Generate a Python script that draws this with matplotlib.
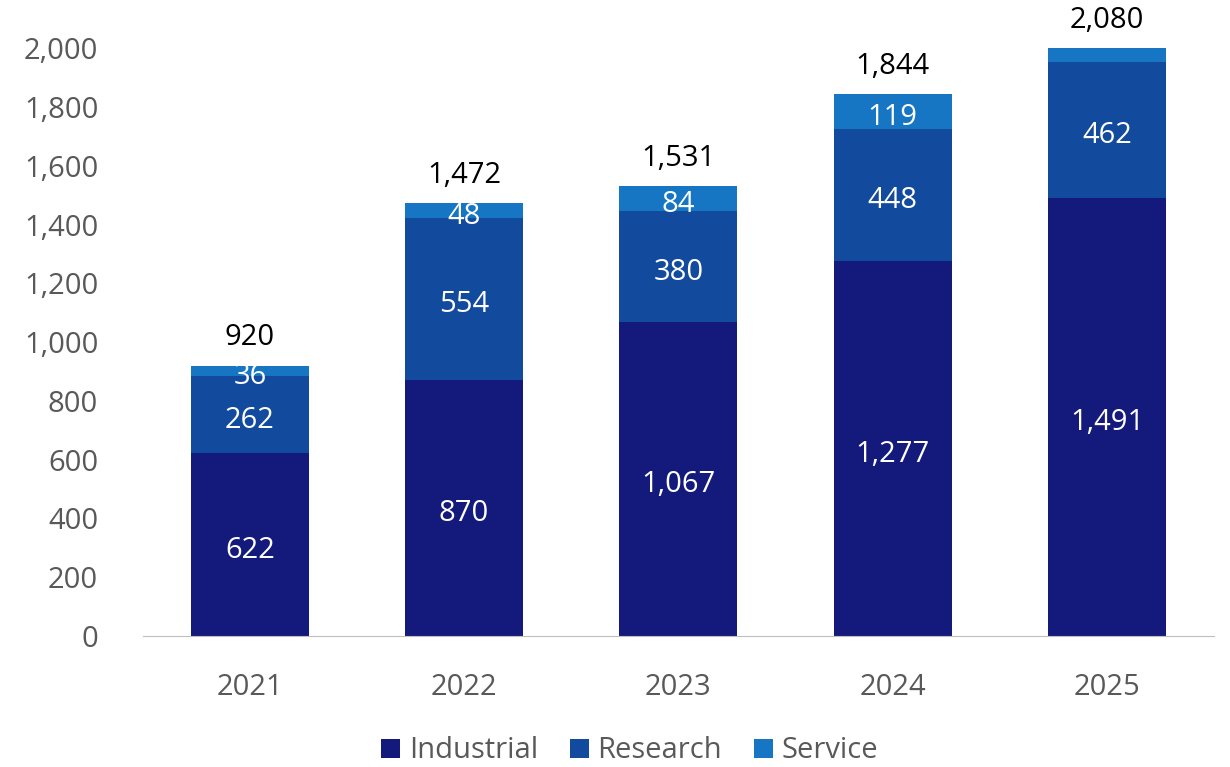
import matplotlib.pyplot as plt
import numpy as np
from matplotlib.ticker import FuncFormatter

years = ['2021', '2022', '2023', '2024', '2025']
industrial = [622, 870, 1067, 1277, 1491]
research = [262, 554, 380, 448, 462]
service = [36, 48, 84, 119, 127]
totals = [920, 1472, 1531, 1844, 2080]

colors = ['#141A7C', '#124A9E', '#1676C4']
names = ['Industrial', 'Research', 'Service']

plt.rcParams['font.family'] = ['Open Sans', 'DejaVu Sans']
fs = 21

fig = plt.figure(figsize=(12.3, 7.67), dpi=100)
ax = fig.add_axes([0.116, 0.171, 0.871, 0.766])

x = np.arange(len(years))
ymax = 2000
bottom = np.zeros(len(years))
for vals, c, n in zip([industrial, research, service], colors, names):
    vals = np.array(vals, dtype=float)
    ax.bar(x, vals, 0.55, bottom=bottom, color=c, label=n, linewidth=0)
    for i, v in enumerate(vals):
        mid = bottom[i] + v / 2
        if mid < ymax:
            ax.text(x[i], mid - 20, f'{int(v):,}', ha='center', va='center',
                    color='white', fontsize=fs)
    bottom += vals

for i, t in enumerate(totals):
    ax.text(x[i], min(t, ymax) + 95, f'{t:,}', ha='center', va='center',
            color='black', fontsize=fs, clip_on=False)

ax.set_xlim(-0.5, 4.5)
ax.set_ylim(0, ymax)
ax.set_yticks(range(0, 2001, 200))
ax.yaxis.set_major_formatter(FuncFormatter(lambda v, p: f'{int(v):,}'))
ax.set_xticks(x)
ax.set_xticklabels(years)
ax.tick_params(length=0, labelsize=fs, colors='#595959')
ax.tick_params(axis='x', pad=27)
ax.tick_params(axis='y', pad=32)
for s in ['top', 'right', 'left']:
    ax.spines[s].set_visible(False)
ax.spines['bottom'].set_color('#BFBFBF')

fig.legend(loc='center', bbox_to_anchor=(0.512, 1 - 751 / 767), ncol=3,
           frameon=False, fontsize=fs, handlelength=0.65, handleheight=0.65,
           handletextpad=0.3, columnspacing=1.1, labelcolor='#595959')

fig.savefig('out.png', dpi=100)
